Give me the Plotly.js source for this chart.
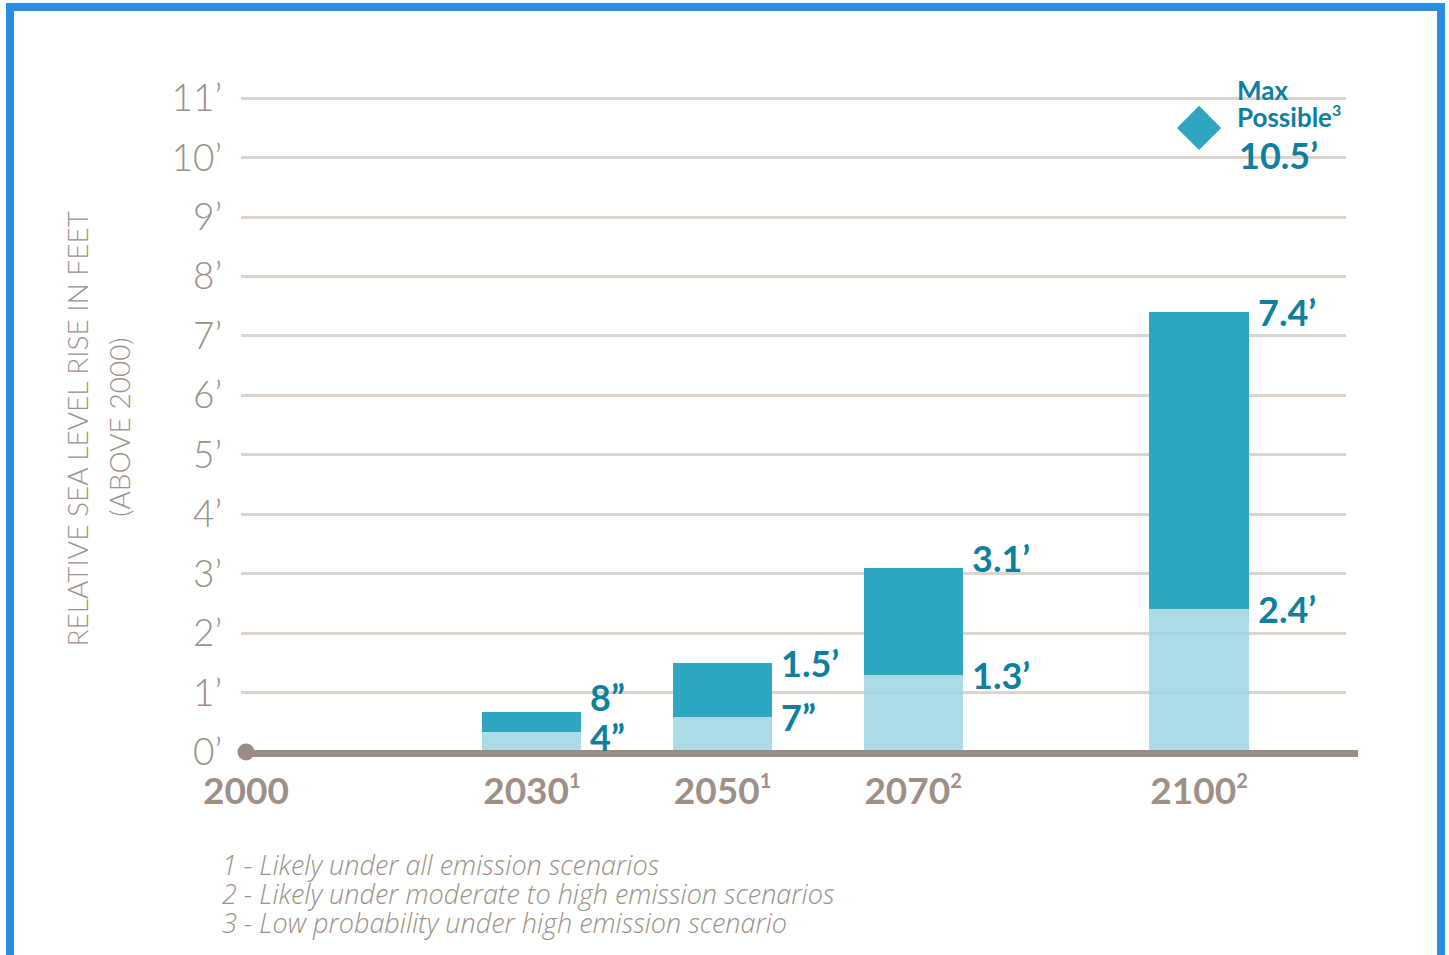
<!DOCTYPE html>
<html>
<head>
<meta charset="utf-8">
<script src="https://cdn.plot.ly/plotly-3.0.1.min.js"></script>
<style>
  html, body { margin: 0; padding: 0; background: #ffffff; overflow: hidden; }
  #chart { position: absolute; left: 0; top: 0; width: 1449px; height: 955px; }
  #frame { position: absolute; left: 6px; top: 3px; width: 1423px; height: 980px;
           border: 8px solid #2b8ce4; border-bottom: none; pointer-events: none; }
</style>
</head>
<body>
<div id="chart"></div>
<div id="frame"></div>
<script>
// ---------- data ----------
const years = [2030, 2050, 2070, 2100];
const lowFeet = [4 / 12, 7 / 12, 1.3, 2.4];
const highFeet = [8 / 12, 1.5, 3.1, 7.4];
const tickYears = [2000, 2030, 2050, 2070, 2100];
const tickNotes = ['', '1', '1', '2', '2'];
const yTickFeet = [0, 1, 2, 3, 4, 5, 6, 7, 8, 9, 10, 11];
const maxYear = 2100;
const maxFeet = 10.5;
const maxNote = '3';
const startYear = 2000;
const footnotes = [
  '1 - Likely under all emission scenarios',
  '2 - Likely under moderate to high emission scenarios',
  '3 - Low probability under high emission scenario'
];

// ---------- styles ----------
const GRAY = '#9c9088';
const GRID = '#dcd5cf';
const BASE = '#9a8c84';
const DARK = '#2ea6c0';
const LIGHT = 'rgba(157,213,226,0.86)';
const LABEL = '#0f7f9f';
const FONT = 'Lato, "Open Sans", sans-serif';
const WIDEFONT = '"Open Sans", Lato, sans-serif';
const BAR_W = 10.4;
const Y_MAX = 11.02;

function fmt(v) {
  if (v < 1) return Math.round(v * 12) + '\u201D';
  return v.toFixed(1) + '\u2019';
}
function sup(n, px) {
  return '<sup><span style="font-size:' + px + 'px">' + n + '</span></sup>';
}

const diff = highFeet.map((h, i) => h - lowFeet[i]);

const traces = [
  { type: 'bar', x: years, y: lowFeet, width: BAR_W,
    marker: { color: LIGHT, line: { width: 0 } }, hoverinfo: 'skip', showlegend: false },
  { type: 'bar', x: years, y: diff, width: BAR_W,
    marker: { color: DARK, line: { width: 0 } }, hoverinfo: 'skip', showlegend: false },
  { type: 'scatter', mode: 'markers', x: [maxYear], y: [maxFeet],
    marker: { symbol: 'diamond', size: 34, color: DARK, line: { width: 0 } },
    hoverinfo: 'skip', showlegend: false },
  { type: 'scatter', mode: 'markers', x: [startYear], y: [0], cliponaxis: false,
    marker: { symbol: 'circle', size: 17, color: BASE, line: { width: 0 } },
    hoverinfo: 'skip', showlegend: false }
];

const PX_PER_FT = 654 / 11;
const annotations = [];
years.forEach((yr, i) => {
  const gapPx = (highFeet[i] - lowFeet[i]) * PX_PER_FT;
  const push = gapPx < 40 ? (40 - gapPx) * 0.75 : 0;
  annotations.push({
    x: yr + BAR_W / 2, y: lowFeet[i], xref: 'x', yref: 'y',
    text: fmt(lowFeet[i]), showarrow: false, xanchor: 'left', yanchor: 'middle',
    xshift: 7, yshift: -push * 0.3,
    font: { family: FONT, size: 36, color: LABEL, weight: 700 }
  });
  annotations.push({
    x: yr + BAR_W / 2, y: highFeet[i], xref: 'x', yref: 'y',
    text: fmt(highFeet[i]), showarrow: false, xanchor: 'left', yanchor: 'middle',
    xshift: 7, yshift: push + (i === 2 ? 10 : 0),
    font: { family: FONT, size: 36, color: LABEL, weight: 700 }
  });
});

// Max possible labels
annotations.push({
  x: maxYear, y: maxFeet, xref: 'x', yref: 'y', text: 'Max', showarrow: false,
  xanchor: 'left', yanchor: 'middle', xshift: 36, yshift: 38,
  font: { family: FONT, size: 26, color: LABEL, weight: 700 }
});
annotations.push({
  x: maxYear, y: maxFeet, xref: 'x', yref: 'y', text: 'Possible' + sup(maxNote, 16),
  showarrow: false, xanchor: 'left', yanchor: 'middle', xshift: 36, yshift: 11,
  font: { family: FONT, size: 26, color: LABEL, weight: 700 }
});
annotations.push({
  x: maxYear, y: maxFeet, xref: 'x', yref: 'y', text: fmt(maxFeet), showarrow: false,
  xanchor: 'left', yanchor: 'middle', xshift: 38, yshift: -27,
  font: { family: FONT, size: 36, color: LABEL, weight: 700 }
});

// y-axis title (two lines)
annotations.push({
  xref: 'paper', yref: 'paper', x: 0, y: 0.4924, xshift: -164, textangle: -90,
  text: 'RELATIVE SEA LEVEL RISE IN FEET', showarrow: false,
  xanchor: 'center', yanchor: 'middle',
  font: { family: FONT, size: 28, color: GRAY, weight: 300 }
});
annotations.push({
  xref: 'paper', yref: 'paper', x: 0, y: 0.495, xshift: -122, textangle: -90,
  text: '(ABOVE 2000)', showarrow: false, xanchor: 'center', yanchor: 'middle',
  font: { family: FONT, size: 28, color: GRAY, weight: 300 }
});

// footnotes
footnotes.forEach((t, i) => {
  annotations.push({
    xref: 'paper', yref: 'paper', x: 0, y: 0, xshift: -21, yshift: -(112 + i * 29),
    text: t, showarrow: false, xanchor: 'left', yanchor: 'middle',
    font: { family: WIDEFONT, size: 27, color: GRAY, weight: 300, style: 'italic' }
  });
});

const layout = {
  width: 1449, height: 955,
  margin: { l: 241, r: 103, t: 97, b: 203, pad: 0 },
  paper_bgcolor: '#ffffff', plot_bgcolor: '#ffffff',
  barmode: 'stack', bargap: 0,
  showlegend: false,
  xaxis: {
    range: [1999.475, 2115.42], showgrid: false, zeroline: false, showline: false,
    tickmode: 'array', tickvals: tickYears,
    ticktext: tickYears.map((y, i) => tickNotes[i] ? y + sup(tickNotes[i], 20) : String(y)),
    ticks: '', ticklabelstandoff: 14,
    tickfont: { family: FONT, size: 37, color: GRAY, weight: 700 },
    fixedrange: true
  },
  yaxis: {
    range: [0, Y_MAX], showgrid: true, gridcolor: GRID, gridwidth: 3,
    zeroline: false, showline: false,
    tickmode: 'array', tickvals: yTickFeet, ticktext: yTickFeet.map(v => v + '\u2019'),
    ticks: '', ticklabelstandoff: 18,
    tickfont: { family: FONT, size: 37, color: GRAY, weight: 300 },
    fixedrange: true
  },
  shapes: [
    { type: 'line', xref: 'paper', yref: 'paper', x0: 0.0045, x1: 1.0109,
      y0: -0.0023, y1: -0.0023,
      line: { color: BASE, width: 7 }, layer: 'above' }
  ],
  annotations: annotations
};

Plotly.newPlot('chart', traces, layout, { displayModeBar: false, staticPlot: true });
</script>
</body>
</html>
